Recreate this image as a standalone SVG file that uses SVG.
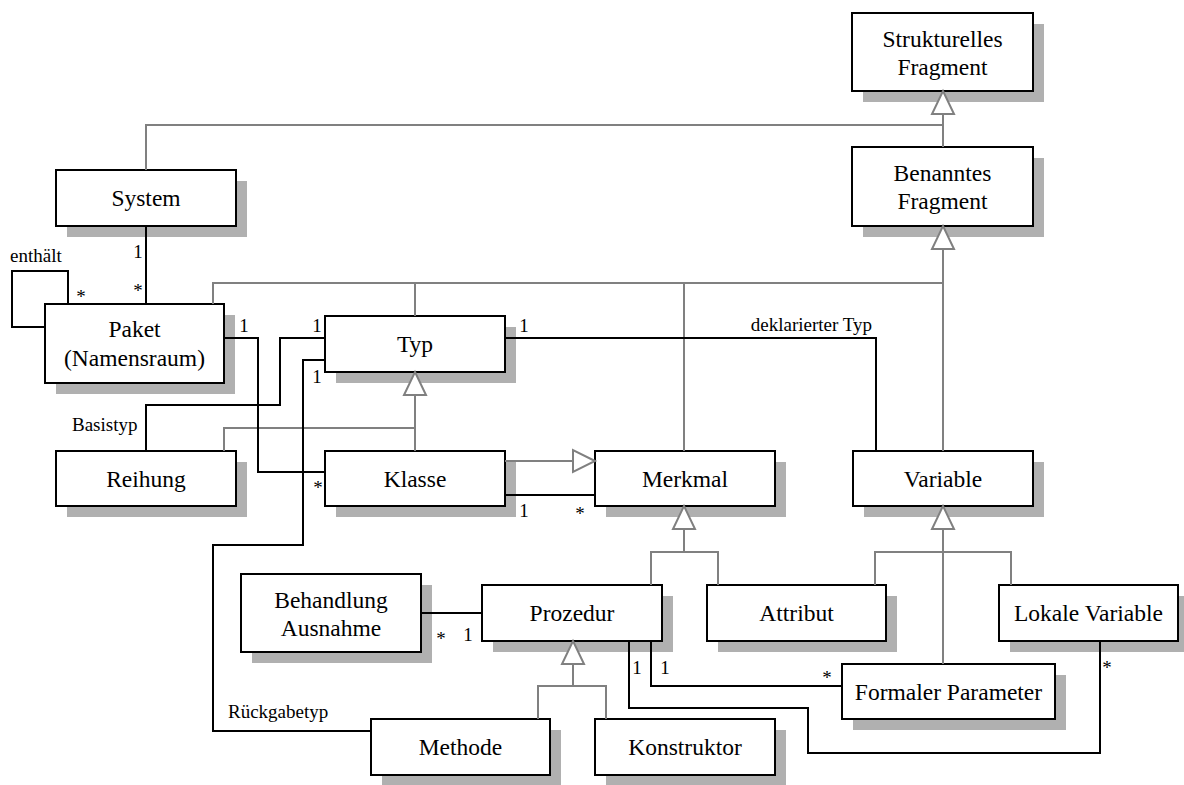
<svg xmlns="http://www.w3.org/2000/svg" width="1184" height="785" viewBox="0 0 1184 785">
  <style>
    .shadow { fill: #b0b0b0; }
    .box { fill: #ffffff; stroke: #000000; stroke-width: 2; }
    .name { font-family: "Liberation Serif", "Times New Roman", serif; font-size: 23.5px; fill: #000000; text-anchor: middle; }
    .lbl { font-family: "Liberation Serif", "Times New Roman", serif; font-size: 19px; fill: #000000; }
    .mid { text-anchor: middle; }
    .end { text-anchor: end; }
    .gen { fill: none; stroke: #808080; stroke-width: 2; }
    .tri { fill: #ffffff; stroke: #808080; stroke-width: 2; stroke-linejoin: miter; }
    .assoc { fill: none; stroke: #000000; stroke-width: 2; }
  </style>
  <rect width="1184" height="785" fill="#ffffff"/>

  <!-- class boxes -->
  <g id="strukturelles-fragment">
    <rect class="shadow" x="863" y="24" width="181" height="78"/>
    <rect class="box" x="852" y="13" width="181" height="78"/>
    <text class="name" x="942.5" y="47">Strukturelles</text>
    <text class="name" x="942.5" y="75">Fragment</text>
  </g>
  <g id="benanntes-fragment">
    <rect class="shadow" x="863" y="158" width="181" height="79"/>
    <rect class="box" x="852" y="147" width="181" height="79"/>
    <text class="name" x="942.5" y="181">Benanntes</text>
    <text class="name" x="942.5" y="209">Fragment</text>
  </g>
  <g id="system">
    <rect class="shadow" x="67" y="181" width="180" height="56"/>
    <rect class="box" x="56" y="170" width="180" height="56"/>
    <text class="name" x="146" y="206">System</text>
  </g>
  <g id="paket">
    <rect class="shadow" x="56" y="315" width="179" height="79"/>
    <rect class="box" x="45" y="304" width="179" height="79"/>
    <text class="name" x="134.5" y="337">Paket</text>
    <text class="name" x="134.5" y="366">(Namensraum)</text>
  </g>
  <g id="typ">
    <rect class="shadow" x="336" y="327" width="180" height="56"/>
    <rect class="box" x="325" y="316" width="180" height="56"/>
    <text class="name" x="415" y="352">Typ</text>
  </g>
  <g id="reihung">
    <rect class="shadow" x="67" y="462" width="180" height="55"/>
    <rect class="box" x="56" y="451" width="180" height="55"/>
    <text class="name" x="146" y="487">Reihung</text>
  </g>
  <g id="klasse">
    <rect class="shadow" x="336" y="462" width="180" height="55"/>
    <rect class="box" x="325" y="451" width="180" height="55"/>
    <text class="name" x="415" y="487">Klasse</text>
  </g>
  <g id="merkmal">
    <rect class="shadow" x="606" y="462" width="180" height="55"/>
    <rect class="box" x="595" y="451" width="180" height="55"/>
    <text class="name" x="685" y="487">Merkmal</text>
  </g>
  <g id="variable">
    <rect class="shadow" x="864" y="462" width="180" height="55"/>
    <rect class="box" x="853" y="451" width="180" height="55"/>
    <text class="name" x="943" y="487">Variable</text>
  </g>
  <g id="behandlung-ausnahme">
    <rect class="shadow" x="252" y="585" width="180" height="78"/>
    <rect class="box" x="241" y="574" width="180" height="78"/>
    <text class="name" x="331" y="608">Behandlung</text>
    <text class="name" x="331" y="636">Ausnahme</text>
  </g>
  <g id="prozedur">
    <rect class="shadow" x="493" y="596" width="180" height="56"/>
    <rect class="box" x="482" y="585" width="180" height="56"/>
    <text class="name" x="572" y="621">Prozedur</text>
  </g>
  <g id="attribut">
    <rect class="shadow" x="718" y="596" width="179" height="56"/>
    <rect class="box" x="707" y="585" width="179" height="56"/>
    <text class="name" x="796.5" y="621">Attribut</text>
  </g>
  <g id="lokale-variable">
    <rect class="shadow" x="1010" y="596" width="179" height="56"/>
    <rect class="box" x="999" y="585" width="179" height="56"/>
    <text class="name" x="1088.5" y="621">Lokale Variable</text>
  </g>
  <g id="formaler-parameter">
    <rect class="shadow" x="853" y="675" width="213" height="55"/>
    <rect class="box" x="842" y="664" width="213" height="55"/>
    <text class="name" x="948.5" y="700">Formaler Parameter</text>
  </g>
  <g id="methode">
    <rect class="shadow" x="382" y="730" width="179" height="56"/>
    <rect class="box" x="371" y="719" width="179" height="56"/>
    <text class="name" x="460.5" y="755">Methode</text>
  </g>
  <g id="konstruktor">
    <rect class="shadow" x="606" y="730" width="180" height="56"/>
    <rect class="box" x="595" y="719" width="180" height="56"/>
    <text class="name" x="685" y="755">Konstruktor</text>
  </g>

  <!-- generalisations and associations -->
  <g id="connectors">
    <!-- generalisation lines (grey) -->
    <path class="gen" d="M146,170 V125 H943 M943,114 V147"/>
    <path class="gen" d="M213,304 V283 H943 M943,249 V451 M415,316 V283 M684,451 V283"/>
    <path class="gen" d="M415,395 V451 M415,428 H224 V451"/>
    <path class="gen" d="M505,461 H573"/>
    <path class="gen" d="M684,529 V552 M651,585 V552 H718 V585"/>
    <path class="gen" d="M943,529 V664 M875,585 V552 H1011 V585"/>
    <path class="gen" d="M573,664 V686 M538,719 V686 H606 V719"/>
    <!-- hollow generalisation heads -->
    <polygon class="tri" points="943,91 954,114 932,114"/>
    <polygon class="tri" points="943,226 954,249 932,249"/>
    <polygon class="tri" points="415,372 426,395 404,395"/>
    <polygon class="tri" points="595,461 573,450 573,472"/>
    <polygon class="tri" points="684,506 695,529 673,529"/>
    <polygon class="tri" points="943,506 954,529 932,529"/>
    <polygon class="tri" points="573,641 584,664 562,664"/>

    <!-- associations (black) -->
    <path class="assoc" d="M146,226 V304"/>
    <path class="assoc" d="M68,304 V271 H12 V327 H45"/>
    <path class="assoc" d="M224,338 H258 V472 H325"/>
    <path class="assoc" d="M146,451 V405 H280 V338 H325"/>
    <path class="assoc" d="M325,360 H303 V545 H213 V731 H371"/>
    <path class="assoc" d="M505,338 H876 V451"/>
    <path class="assoc" d="M505,495 H595"/>
    <path class="assoc" d="M421,613 H482"/>
    <path class="assoc" d="M651,641 V686 H842"/>
    <path class="assoc" d="M629,641 V708 H808 V753 H1100 V641"/>

    <!-- role names and multiplicities -->
    <text class="lbl" x="10" y="262">enthält</text>
    <text class="lbl mid" x="138" y="258">1</text>
    <text class="lbl mid" x="138" y="297">*</text>
    <text class="lbl mid" x="81" y="303">*</text>
    <text class="lbl mid" x="244" y="332">1</text>
    <text class="lbl mid" x="317" y="332">1</text>
    <text class="lbl mid" x="317" y="383">1</text>
    <text class="lbl" x="72" y="431">Basistyp</text>
    <text class="lbl mid" x="318" y="494">*</text>
    <text class="lbl mid" x="524" y="332">1</text>
    <text class="lbl end" x="872" y="331">deklarierter Typ</text>
    <text class="lbl mid" x="524" y="517">1</text>
    <text class="lbl mid" x="580" y="520">*</text>
    <text class="lbl mid" x="441" y="645">*</text>
    <text class="lbl mid" x="468" y="641">1</text>
    <text class="lbl mid" x="637" y="674">1</text>
    <text class="lbl mid" x="665" y="674">1</text>
    <text class="lbl mid" x="827" y="684">*</text>
    <text class="lbl mid" x="1107" y="674">*</text>
    <text class="lbl" x="228" y="718">Rückgabetyp</text>
  </g>
</svg>
